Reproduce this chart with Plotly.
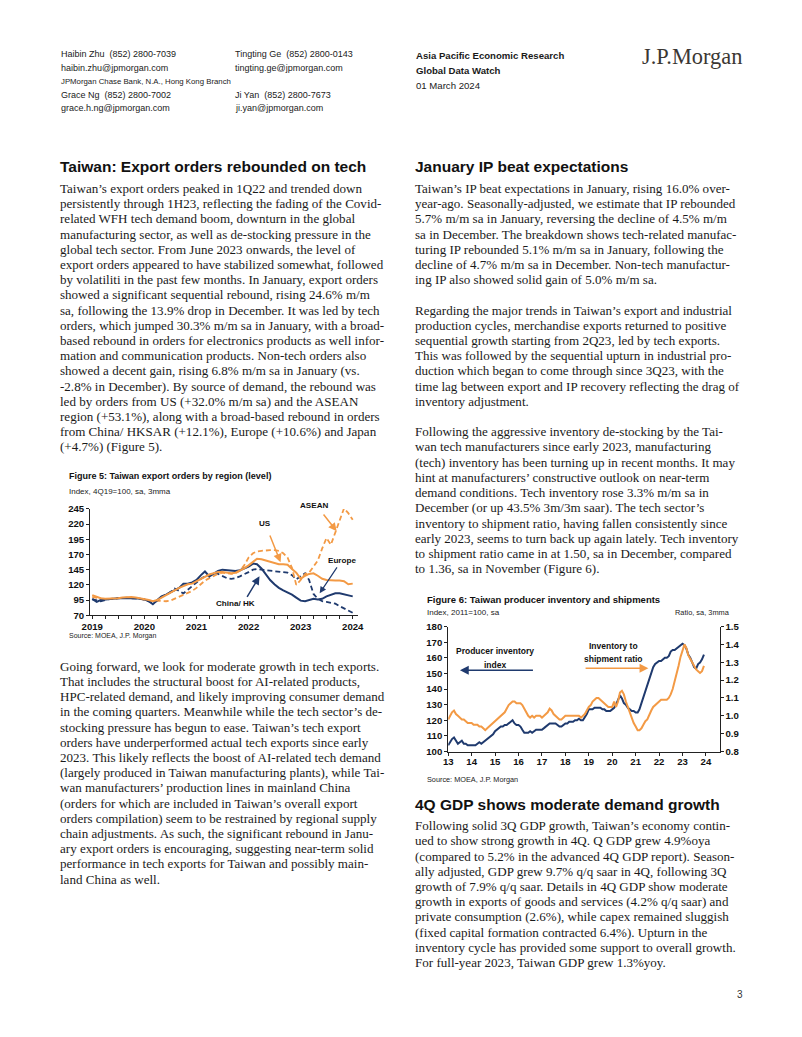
import plotly.graph_objects as go
import pandas as pd

# page geometry (reference pixels); the figure is drawn inside the 8px body margin
PAGE_W, PAGE_H = 802, 1037
OFF = 8
W, H = PAGE_W - 2 * OFF, PAGE_H - 2 * OFF
# measured photograph mapping (page -> picture): x' = 9.2 + 0.98 x ; y' = 5 + 0.989 y
MX_A, MX_B = 9.2, 0.98
MY_A, MY_B = 5.0, 0.989

# ---------------- Figure 5 data: export orders by region, index 4Q19=100, sa, 3mma (Jan-2019 .. Jan-2024)
fig5_start = "2019-01-01"
china_hk = [97, 92, 95, 96, 97, 97, 98, 98, 98, 99, 98, 97,
            96, 93, 88, 95, 101, 104, 108, 112, 115, 122, 122, 124,
            128, 136, 142, 134, 138, 143, 145, 144, 144, 143, 144, 147,
            150, 155, 154, 147, 138, 128, 121, 115, 111, 108, 104, 99,
            94, 93, 95, 97, 96, 97, 101, 104, 106, 106, 104, 103,
            101]
us = [103, 100, 98, 97, 97, 98, 98, 99, 100, 100, 99, 98,
      97, 95, 93, 95, 99, 103, 107, 112, 115, 118, 121, 122,
      126, 130, 134, 137, 139, 141, 141, 140, 139, 140, 143, 147,
      152, 158, 163, 162, 160, 157, 155, 154, 154, 153, 146, 140,
      130, 135, 138, 139, 135, 130, 128, 127, 127, 127, 126, 121,
      122]
asean = [100, 99, 97, 96, 97, 98, 98, 98, 98, 99, 98, 97,
         96, 94, 93, 94, 93, 93, 94, 97, 100, 104, 106, 110,
         115, 122, 127, 131, 135, 138, 140, 139, 138, 139, 143, 152,
         165, 172, 175, 176, 177, 177, 177, 176, 172, 165, 148, 120,
         128, 138, 140, 150, 160, 180, 197, 186, 205, 225, 246, 238,
         227]
europe = [96, 94, 93, 95, 97, 97, 98, 99, 99, 98, 98, 97,
          96, 93, 90, 94, 100, 104, 108, 114, 110, 106, 112, 118,
          124, 130, 134, 136, 139, 138, 134, 131, 130, 131, 134, 137,
          141, 145, 146, 145, 144, 144, 143, 142, 140, 140, 136, 129,
          134, 139, 128, 105, 97, 93, 92, 91, 89, 85, 81, 77,
          74]

# ---------------- Figure 6 data: producer inventory (2011=100, sa) and inventory/shipment ratio (Jan-2013 .. Dec-2023)
fig6_start = "2013-01-01"
inventory_index = [104, 106, 108, 109, 107, 105, 106, 107, 105, 105, 104, 104,
                   104, 104, 104, 105, 106, 105, 106, 107, 108, 109, 110, 111,
                   113, 114, 115, 116, 116, 117, 117, 118, 119, 120, 118, 117,
                   117, 116, 114, 112, 112, 112, 113, 112, 113, 114, 114, 114,
                   114, 115, 116, 117, 118, 118, 118, 118, 117, 116, 116, 117,
                   118, 118, 119, 119, 119, 120, 120, 121, 120, 120, 122, 124,
                   127, 127, 127, 128, 128, 128, 128, 127, 127, 126, 126, 126,
                   127, 128, 130, 133, 136, 134, 131, 130, 128, 127, 126, 126,
                   125, 125, 127, 131, 135, 139, 143, 147, 151, 154, 156, 157,
                   158, 158, 159, 160, 160, 161, 164, 165, 165, 166, 167, 168,
                   169, 168, 166, 162, 160, 157, 154, 153, 156, 157, 159, 162]
inv_ship_ratio = [0.98, 1.00, 1.02, 1.03, 1.01, 1.00, 0.99, 0.98, 0.98, 0.97, 0.96, 0.96,
                  0.96, 0.95, 0.95, 0.95, 0.94, 0.94, 0.93, 0.92, 0.93, 0.94, 0.95, 0.96,
                  0.97, 0.98, 0.99, 1.00, 1.01, 1.02, 1.04, 1.06, 1.07, 1.08, 1.08, 1.07,
                  1.07, 1.07, 1.06, 1.04, 1.02, 1.00, 0.99, 1.00, 0.99, 1.00, 1.00, 1.00,
                  0.99, 1.00, 1.01, 1.02, 1.04, 1.03, 1.01, 1.00, 0.99, 0.98, 0.98, 0.99,
                  1.00, 1.00, 1.00, 1.00, 1.00, 1.00, 1.00, 1.00, 0.99, 1.00, 1.01, 1.03,
                  1.05, 1.06, 1.08, 1.09, 1.10, 1.10, 1.09, 1.08, 1.07, 1.06, 1.05, 1.05,
                  1.05, 1.08, 1.05, 1.08, 1.13, 1.14, 1.12, 1.08, 1.05, 1.01, 0.99, 0.96,
                  0.94, 0.92, 0.92, 0.93, 0.95, 0.97, 0.98, 1.01, 1.03, 1.05, 1.06, 1.07,
                  1.08, 1.09, 1.09, 1.09, 1.09, 1.10, 1.12, 1.15, 1.19, 1.24, 1.28, 1.33,
                  1.37, 1.40, 1.38, 1.34, 1.32, 1.30, 1.28, 1.26, 1.25, 1.24, 1.25, 1.28]

# ---------------- Text content
NB = "\u00a0"
header_left = ["Haibin Zhu" + NB + " (852) 2800-7039", "haibin.zhu@jpmorgan.com",
               "JPMorgan Chase Bank, N.A., Hong Kong Branch",
               "Grace Ng" + NB + " (852) 2800-7002", "grace.h.ng@jpmorgan.com"]
header_mid = ["Tingting Ge" + NB + " (852) 2800-0143", "tingting.ge@jpmorgan.com", "",
              "Ji Yan" + NB + " (852) 2800-7673", "ji.yan@jpmorgan.com"]
header_right = ["<b>Asia Pacific Economic Research</b>", "<b>Global Data Watch</b>", "01 March 2024"]

heading_left = "Taiwan: Export orders rebounded on tech"
heading_right1 = "January IP beat expectations"
heading_right2 = "4Q GDP shows moderate demand growth"

left_para1 = [
    "Taiwan’s export orders peaked in 1Q22 and trended down",
    "persistently through 1H23, reflecting the fading of the Covid-",
    "related WFH tech demand boom, downturn in the global",
    "manufacturing sector, as well as de-stocking pressure in the",
    "global tech sector. From June 2023 onwards, the level of",
    "export orders appeared to have stabilized somewhat, followed",
    "by volatiliti in the past few months. In January, export orders",
    "showed a significant sequential rebound, rising 24.6% m/m",
    "sa, following the 13.9% drop in December. It was led by tech",
    "orders, which jumped 30.3% m/m sa in January, with a broad-",
    "based rebound in orders for electronics products as well infor-",
    "mation and communication products. Non-tech orders also",
    "showed a decent gain, rising 6.8% m/m sa in January (vs.",
    "-2.8% in December). By source of demand, the rebound was",
    "led by orders from US (+32.0% m/m sa) and the ASEAN",
    "region (+53.1%), along with a broad-based rebound in orders",
    "from China/ HKSAR (+12.1%), Europe (+10.6%) and Japan",
    "(+4.7%) (Figure 5).",
]
left_para2 = [
    "Going forward, we look for moderate growth in tech exports.",
    "That includes the structural boost for AI-related products,",
    "HPC-related demand, and likely improving consumer demand",
    "in the coming quarters. Meanwhile while the tech sector’s de-",
    "stocking pressure has begun to ease. Taiwan’s tech export",
    "orders have underperformed actual tech exports since early",
    "2023. This likely reflects the boost of AI-related tech demand",
    "(largely produced in Taiwan manufacturing plants), while Tai-",
    "wan manufacturers’ production lines in mainland China",
    "(orders for which are included in Taiwan’s overall export",
    "orders compilation) seem to be restrained by regional supply",
    "chain adjustments. As such, the significant rebound in Janu-",
    "ary export orders is encouraging, suggesting near-term solid",
    "performance in tech exports for Taiwan and possibly main-",
    "land China as well.",
]
right_block = [
    "Taiwan’s IP beat expectations in January, rising 16.0% over-",
    "year-ago. Seasonally-adjusted, we estimate that IP rebounded",
    "5.7% m/m sa in January, reversing the decline of 4.5% m/m",
    "sa in December. The breakdown shows tech-related manufac-",
    "turing IP rebounded 5.1% m/m sa in January, following the",
    "decline of 4.7% m/m sa in December. Non-tech manufactur-",
    "ing IP also showed solid gain of 5.0% m/m sa.",
    "",
    "Regarding the major trends in Taiwan’s export and industrial",
    "production cycles, merchandise exports returned to positive",
    "sequential growth starting from 2Q23, led by tech exports.",
    "This was followed by the sequential upturn in industrial pro-",
    "duction which began to come through since 3Q23, with the",
    "time lag between export and IP recovery reflecting the drag of",
    "inventory adjustment.",
    "",
    "Following the aggressive inventory de-stocking by the Tai-",
    "wan tech manufacturers since early 2023, manufacturing",
    "(tech) inventory has been turning up in recent months. It may",
    "hint at manufacturers’ constructive outlook on near-term",
    "demand conditions. Tech inventory rose 3.3% m/m sa in",
    "December (or up 43.5% 3m/3m saar). The tech sector’s",
    "inventory to shipment ratio, having fallen consistently since",
    "early 2023, seems to turn back up again lately. Tech inventory",
    "to shipment ratio came in at 1.50, sa in December, compared",
    "to 1.36, sa in November (Figure 6).",
]
right_para4 = [
    "Following solid 3Q GDP growth, Taiwan’s economy contin-",
    "ued to show strong growth in 4Q. Q GDP grew 4.9%oya",
    "(compared to 5.2% in the advanced 4Q GDP report). Season-",
    "ally adjusted, GDP grew 9.7% q/q saar in 4Q, following 3Q",
    "growth of 7.9% q/q saar. Details in 4Q GDP show moderate",
    "growth in exports of goods and services (4.2% q/q saar) and",
    "private consumption (2.6%), while capex remained sluggish",
    "(fixed capital formation contracted 6.4%). Upturn in the",
    "inventory cycle has provided some support to overall growth.",
    "For full-year 2023, Taiwan GDP grew 1.3%yoy.",
]

# ---------------- Styles
SERIF = "Liberation Serif, Times New Roman, serif"
SANS = "Liberation Sans, Arial, sans-serif"
NAVY = "#1f3a6e"
ORANGE = "#f39a45"
TEXT = "#1a1a1a"
BODY = 13.05
LH = 15.2


def px(t):
    x = (t - MX_A) / MX_B
    return (x - OFF) / W


def py(t):
    y = (t - MY_A) / MY_B
    return 1 - (y - OFF) / H


annotations = []


def txt(x, y, s, size, family=SANS, color=TEXT, xanchor="left", yanchor="middle"):
    annotations.append(dict(x=px(x), y=py(y), xref="paper", yref="paper", text=s, showarrow=False,
                            xanchor=xanchor, yanchor=yanchor, align="left", borderpad=0,
                            font=dict(size=size, family=family, color=color)))


def arrow(tx, ty, hx, hy, color, width=1.5):
    annotations.append(dict(x=px(hx), y=py(hy), xref="paper", yref="paper", text="",
                            showarrow=True, ax=(tx - hx) / MX_B, ay=(ty - hy) / MY_B,
                            axref="pixel", ayref="pixel",
                            arrowhead=2, arrowsize=1.1, arrowwidth=width, arrowcolor=color))


# header
HY = [53, 66.5, 80, 93.5, 107]
for i, s in enumerate(header_left):
    txt(61, HY[i], s, 7.8 if i == 2 else 9.0)
for i, s in enumerate(header_mid):
    if s:
        txt(235, HY[i], s, 9.0)
for i, s in enumerate(header_right):
    txt(415, [54, 69, 84][i], s, 9.6)
txt(641, 55, "J.P.Morgan", 22.4, family=SERIF, color="#3b3733")

# headings and body text
txt(60, 165, "<b>" + heading_left + "</b>", 15.5, color="#111111")
txt(414, 165, "<b>" + heading_right1 + "</b>", 15.5, color="#111111")
txt(414, 803, "<b>" + heading_right2 + "</b>", 15.5, color="#111111")
for i, s in enumerate(left_para1):
    txt(60, 187.4 + i * LH, s, BODY, family=SERIF)
for i, s in enumerate(left_para2):
    txt(60, 665 + i * LH, s, BODY, family=SERIF)
for i, s in enumerate(right_block):
    if s:
        txt(414, 187.4 + i * LH, s, BODY, family=SERIF)
for i, s in enumerate(right_para4):
    txt(414, 824.5 + i * LH, s, BODY, family=SERIF)
txt(739, 993, "3", 10, color="#333333", xanchor="center")

# figure 5 captions
txt(69, 475, "<b>Figure 5: Taiwan export orders by region (level)</b>", 9.0, color="#111111")
txt(69, 490, "Index, 4Q19=100, sa, 3mma", 8.0, color="#222222")
txt(69, 635, "Source: MOEA, J.P. Morgan", 7.0, color="#222222")
txt(314, 504, "<b>ASEAN</b>", 8.1, color="#111111", xanchor="center")
txt(265, 522, "<b>US</b>", 8.1, color="#111111", xanchor="center")
txt(342, 559, "<b>Europe</b>", 8.1, color="#111111", xanchor="center")
txt(236, 602, "<b>China/ HK</b>", 8.1, color="#111111", xanchor="center")
arrow(323, 512, 337, 530, ORANGE)
arrow(270, 533, 281, 561, ORANGE)
arrow(338, 565, 320, 592, NAVY, 1.2)
arrow(247, 597, 260, 575, NAVY)

# figure 6 captions
txt(426, 598, "<b>Figure 6: Taiwan producer inventory and shipments</b>", 9.5, color="#111111")
txt(426, 611, "Index, 2011=100, sa", 8.0, color="#222222")
txt(730, 611, "Ratio, sa, 3mma", 7.4, color="#222222", xanchor="right")
txt(426, 778, "Source: MOEA, J.P. Morgan", 7.3, color="#222222")
txt(495, 650, "<b>Producer inventory</b>", 8.5, color="#111111", xanchor="center")
txt(495, 664, "<b>index</b>", 8.5, color="#111111", xanchor="center")
txt(613, 645, "<b>Inventory to</b>", 8.5, color="#111111", xanchor="center")
txt(613, 658, "<b>shipment ratio</b>", 8.5, color="#111111", xanchor="center")
arrow(533, 669, 460, 669, NAVY, 1.6)
arrow(585, 667, 648, 667, ORANGE, 1.6)

# ---------------- Traces
d5 = pd.date_range(fig5_start, periods=len(china_hk), freq="MS")
d6 = pd.date_range(fig6_start, periods=len(inventory_index), freq="MS")

fig = go.Figure()
fig.add_trace(go.Scatter(x=d5, y=europe, mode="lines", name="Europe",
                         line=dict(color=NAVY, width=1.8, dash="5px,3px"), xaxis="x", yaxis="y"))
fig.add_trace(go.Scatter(x=d5, y=asean, mode="lines", name="ASEAN",
                         line=dict(color=ORANGE, width=1.8, dash="5px,3px"), xaxis="x", yaxis="y"))
fig.add_trace(go.Scatter(x=d5, y=china_hk, mode="lines", name="China/ HK",
                         line=dict(color=NAVY, width=2), xaxis="x", yaxis="y"))
fig.add_trace(go.Scatter(x=d5, y=us, mode="lines", name="US",
                         line=dict(color=ORANGE, width=2), xaxis="x", yaxis="y"))

fig.add_trace(go.Scatter(x=d6, y=inventory_index, mode="lines", name="Producer inventory index",
                         line=dict(color=NAVY, width=2), xaxis="x2", yaxis="y2"))
fig.add_trace(go.Scatter(x=d6, y=inv_ship_ratio, mode="lines", name="Inventory to shipment ratio",
                         line=dict(color=ORANGE, width=2), xaxis="x2", yaxis="y3"))

tickfont = dict(size=9.6, family=SANS, color="#111111", weight="bold")
axis_common = dict(showline=True, linecolor="#222222", linewidth=1, showgrid=False, zeroline=False,
                   ticks="outside", tickcolor="#222222", tickfont=tickfont)

fig.update_layout(
    width=W, height=H, autosize=False,
    margin=dict(l=0, r=0, t=0, b=0, pad=0),
    paper_bgcolor="white", plot_bgcolor="white",
    showlegend=False,
    annotations=annotations,
    xaxis=dict(domain=[px(91), px(358)], anchor="y", type="date",
               range=["2018-12-17", "2024-02-05"], tick0="2019-01-01", dtick="M12", tickformat="%Y",
               ticklen=3, ticklabelstandoff=-1,
               minor=dict(dtick="M3", tick0="2019-01-01", ticks="outside", ticklen=3,
                          tickcolor="#222222"), **axis_common),
    yaxis=dict(domain=[py(614), py(507.7)], anchor="x", range=[70, 245], tick0=70, dtick=25,
               ticklen=3, **axis_common),
    xaxis2=dict(domain=[px(448.3), px(719)], anchor="y2", type="date",
                range=["2013-01-01", "2024-07-31"], tick0="2013-01-01", dtick="M12", tickformat="%y",
                ticklen=3, ticklabelstandoff=-2, **axis_common),
    yaxis2=dict(domain=[py(750.3), py(625.3)], anchor="x2", range=[100, 180], tick0=100, dtick=10,
                ticklen=3, **axis_common),
    yaxis3=dict(overlaying="y2", anchor="x2", side="right", range=[0.8, 1.5], tick0=0.8, dtick=0.1,
                tickformat=".1f", ticklen=3, **axis_common),
)

fig.write_html("out.html")
